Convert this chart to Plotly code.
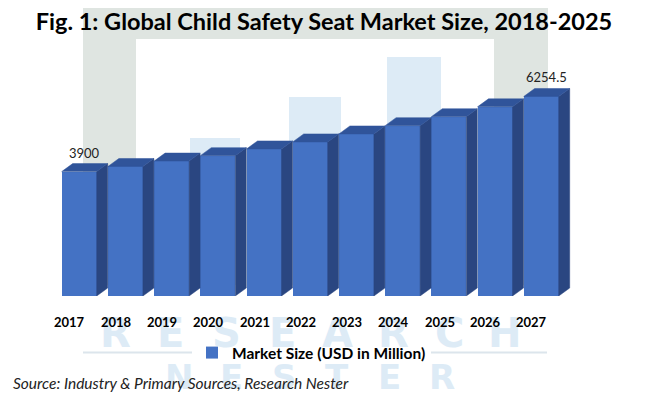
import plotly.graph_objects as go

# ---------------- data ----------------
years = ["2017", "2018", "2019", "2020", "2021", "2022", "2023", "2024", "2025", "2026", "2027"]
market_size = [3900, 4060, 4230, 4400, 4610, 4830, 5080, 5340, 5620, 5930, 6254.5]
labelled_idx = [0, 10]          # bars that carry a value label
series_name = "Market Size (USD in Million)"
title_text = "Fig. 1: Global Child Safety Seat Market Size, 2018-2025"
source_text = "Source: Industry & Primary Sources, Research Nester"
wm_word1 = "RESEARCH"
wm_word2 = "NESTER"

# ---------------- layout geometry / style ----------------
W, H = 650, 396
OFF = 8                     # page body margin compensation
# plot area in page pixels: left 40, right 610, top 57, bottom 296
ML = 40 - OFF
MR = W - (610 - OFF)
MT = 57 - OFF
MB = H - (296 - OFF)
PW, PH = W - ML - MR, H - MT - MB
PX_PER_CAT = 46.2
VAL_PER_PX = 31.35
X0 = -0.8485
X1 = X0 + PW / PX_PER_CAT
Y1 = PH * VAL_PER_PX
BAR_W = 35 / PX_PER_CAT
DX = 11 / PX_PER_CAT          # depth offset (category units)
DY = 8 * VAL_PER_PX           # depth offset (value units)

FRONT = "#4472C4"
TOP = "#30549A"
SIDE = "#2A4681"
FONT = "Lato"


def px2x(px):
    """page pixel x -> paper x"""
    return (px - OFF - ML) / PW


def px2y(py):
    """page pixel y -> paper y"""
    return (H - MB - (py - OFF)) / PH


n = len(years)
idx = list(range(n))

# side & top faces computed from data
side_x, side_y, top_x, top_y = [], [], [], []
for i, v in zip(idx, market_size):
    L, R = i - BAR_W / 2, i + BAR_W / 2
    side_x += [R, R + DX, R + DX, R, R, None]
    side_y += [0, DY, v + DY, v, 0, None]
    top_x += [L, R, R + DX, L + DX, L, None]
    top_y += [v, v, v + DY, v + DY, v, None]

fig = go.Figure()
fig.add_trace(go.Bar(x=idx, y=market_size, width=BAR_W, name=series_name,
                     marker=dict(color=FRONT, line=dict(width=0)),
                     showlegend=True, hoverinfo="skip"))
fig.add_trace(go.Scatter(x=side_x, y=side_y, mode="lines", fill="toself",
                         fillcolor=SIDE, line=dict(color=SIDE, width=0.5),
                         showlegend=False, hoverinfo="skip"))
fig.add_trace(go.Scatter(x=top_x, y=top_y, mode="lines", fill="toself",
                         fillcolor=TOP, line=dict(color=TOP, width=0.5),
                         showlegend=False, hoverinfo="skip"))

# ---------------- watermark (decoration) ----------------
GRAY = "#DFE5E1"
LBLUE = "#DDEBF6"
shapes = []


def rect(x0p, y0p, x1p, y1p, color):
    shapes.append(dict(type="rect", xref="paper", yref="paper",
                       x0=px2x(x0p), x1=px2x(x1p), y0=px2y(y1p), y1=px2y(y0p),
                       fillcolor=color, line=dict(width=0), layer="below"))


rect(83, 4, 548, 39, GRAY)
rect(83, 39, 136, 285, GRAY)
rect(494, 39, 548, 285, GRAY)
rect(190, 138, 240, 285, LBLUE)
rect(289, 97, 341, 285, LBLUE)
rect(387, 57, 441, 285, LBLUE)
shapes.append(dict(type="line", xref="paper", yref="paper",
                   x0=px2x(83), x1=px2x(547), y0=px2y(352.5), y1=px2y(352.5),
                   line=dict(color="#DCE5EC", width=2), layer="below"))

annotations = []
for k, ch in enumerate(wm_word1):
    annotations.append(dict(text=ch, xref="paper", yref="paper",
                            x=px2x(115 + 55.7 * k), y=px2y(333),
                            xanchor="center", yanchor="middle", showarrow=False,
                            font=dict(family="DejaVu Sans", size=40, color=LBLUE, weight="bold")))
for k, ch in enumerate(wm_word2):
    annotations.append(dict(text=ch, xref="paper", yref="paper",
                            x=px2x(179 + 52.6 * k), y=px2y(377),
                            xanchor="center", yanchor="middle", showarrow=False,
                            font=dict(family="DejaVu Sans", size=34, color=LBLUE, weight="bold")))

# ---------------- category labels ----------------
for i, yr in zip(idx, years):
    annotations.append(dict(text=yr, x=i - 0.2, xref="x", y=px2y(322), yref="paper",
                            xanchor="center", yanchor="middle", showarrow=False,
                            font=dict(family=FONT, size=13, color="black", weight="bold")))

# value labels
for i in labelled_idx:
    v = market_size[i]
    annotations.append(dict(text=f"{v:g}", x=i + DX / 2, xref="x", y=v + DY, yref="y",
                            xanchor="center", yanchor="bottom", yshift=1, showarrow=False,
                            font=dict(family=FONT, size=13, color="#222222")))

# source
annotations.append(dict(text=f"<i>{source_text}</i>", xref="paper", yref="paper",
                        x=px2x(11), y=px2y(383), xanchor="left", yanchor="middle",
                        showarrow=False,
                        font=dict(family=FONT, size=15.5, color="#222222")))

fig.update_layout(
    width=W, height=H,
    margin=dict(l=ML, r=MR, t=MT, b=MB, autoexpand=False),
    paper_bgcolor="white", plot_bgcolor="rgba(0,0,0,0)",
    title=dict(text=f"<b>{title_text}</b>", x=(324 - OFF) / W, xref="container", xanchor="center",
               y=1 - (22 - OFF) / H, yref="container", yanchor="middle",
               font=dict(family=FONT, size=23.5, color="black")),
    xaxis=dict(range=[X0, X1], visible=False, fixedrange=True),
    yaxis=dict(range=[0, Y1], visible=False, fixedrange=True),
    showlegend=True,
    legend=dict(orientation="h", x=px2x(192), xanchor="left", y=px2y(353), yanchor="middle",
                bgcolor="white", font=dict(family=FONT, size=15.5, color="black", weight="bold"),
                itemwidth=30),
    shapes=shapes,
    annotations=annotations,
    bargap=0,
)

fig.write_html("out.html")
